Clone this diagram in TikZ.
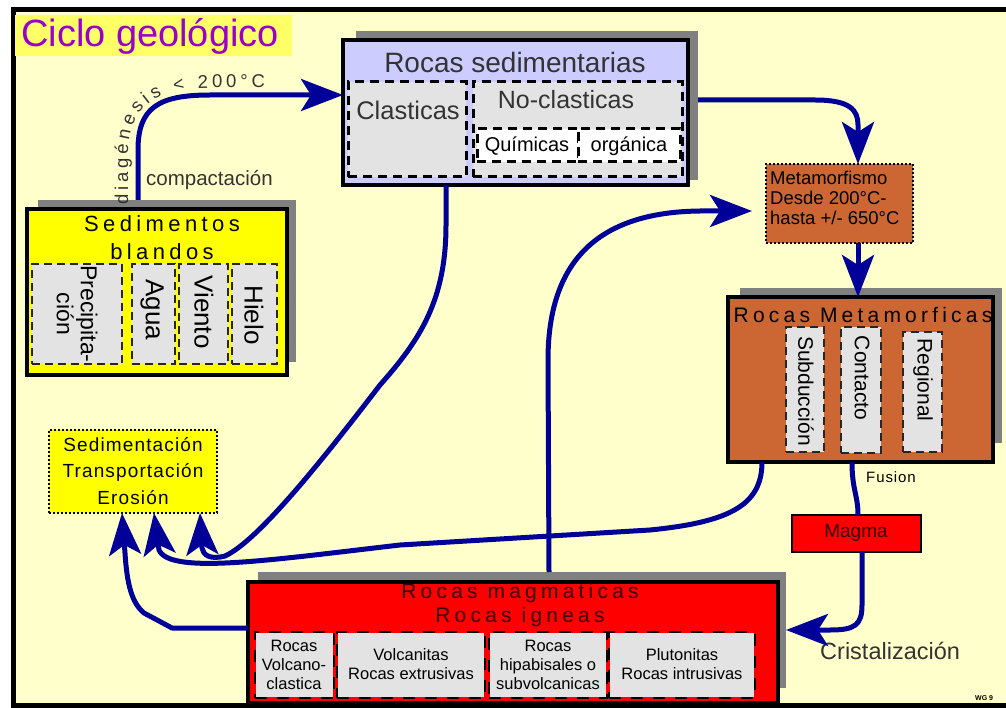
\documentclass[tikz,border=0pt]{standalone}
\usepackage{fontspec}
\setmainfont{Liberation Sans}
\newfontfamily\lsfont[LetterSpace=20]{Liberation Sans}
\newfontfamily\lsa[LetterSpace=6]{Liberation Sans}
\usetikzlibrary{arrows.meta,decorations.text,calc}
\definecolor{bgy}{HTML}{FFFFCC}
\definecolor{titley}{HTML}{FFFF66}
\definecolor{purp}{HTML}{9900CC}
\definecolor{lav}{HTML}{CCCCFF}
\definecolor{subg}{HTML}{E3E3E3}
\definecolor{orng}{HTML}{CC6633}
\definecolor{shadowg}{HTML}{808080}
\definecolor{arrb}{HTML}{000099}
\definecolor{yel}{HTML}{FFFF00}
\definecolor{dtext}{HTML}{333333}
\newcommand\fsz[2]{\fontsize{#1}{#2}\selectfont}
\newcommand\rbox[6]{\node[#6, anchor=north west, inner sep=0, outer sep=0, minimum width={#4-#2}, minimum height={#5-#3}] (#1) at (#2,#3) {};}
\tikzset{
  big/.style={draw=black, line width=3.5},
  subA/.style={draw=black, dash pattern=on 9pt off 6pt, line width=3, fill=subg},
  subB/.style={draw=black!85, dash pattern=on 8pt off 5pt, line width=1.8, fill=subg},
  subC/.style={draw=red, line width=2, fill=subg, postaction={draw=black, dash pattern=on 12pt off 10pt, line width=2.5}},
  dotbox/.style={draw=black, dash pattern=on 2pt off 2pt, line width=1.5},
  arr/.style={draw=arrb, line width=5, line join=round, -{Stealth[length=42pt, width=32pt, inset=10pt]}},
  plain/.style={draw=arrb, line width=5, line join=round},
}
\begin{document}
\begin{tikzpicture}[x=1pt,y=-1pt]
\useasboundingbox (0,0) rectangle (1006,708);
\fill[white] (0,0) rectangle (1006,708);
\fill[bgy] (13,10) rectangle (1020,705);
\draw[line width=5] (13,10) rectangle (1020,705);

% title
\rbox{titlebox}{15}{15}{292}{56}{fill=titley}
\node[text=purp, font=\fsz{38}{38}, anchor=west, inner sep=0] (title) at (21,36) {Ciclo geológico};

% Rocas sedimentarias
\rbox{sedsh}{356}{31}{698}{180}{fill=shadowg}
\rbox{sed}{343}{40}{688}{185}{big, fill=lav}
\rbox{clast}{348}{82}{466}{177}{subA}
\rbox{noclast}{473}{82}{682}{177}{subA}
\rbox{quim}{477}{129}{578}{162}{subA, fill=white}
\rbox{org}{578}{129}{680}{162}{subA, fill=white}
\node[font=\fsz{28}{28}, text=dtext] (sedt) at (515,62) {Rocas sedimentarias};
\node[font=\fsz{25.5}{25.5}, text=dtext] (clastt) at (408,110) {Clasticas};
\node[font=\fsz{25}{25}, text=dtext] (noclastt) at (566,100) {No-clasticas};
\node[font=\fsz{20}{20}] (quimt) at (527,146) {Químicas};
\node[font=\fsz{20}{20}] (orgt) at (629,146) {orgánica};

% Sedimentos blandos
\rbox{sbsh}{38}{200}{296}{362}{fill=shadowg}
\rbox{sb}{27}{209}{287}{375}{big, fill=yel}
\node[font=\lsfont\fsz{22}{28}, align=center] (sbt) at (162,238) {Sedimentos\\blandos};
\rbox{prec}{32}{264}{122}{364}{subB}
\rbox{agua}{132}{264}{175}{364}{subB}
\rbox{viento}{179}{264}{228}{364}{subB}
\rbox{hielo}{232}{264}{277}{364}{subB}
\node[rotate=-90, font=\fsz{23}{24}, align=center] (prect) at (77,314) {Precipita-\\ción};
\node[rotate=-90, font=\fsz{26}{26}] (aguat) at (152,310) {Agua};
\node[rotate=-90, font=\fsz{26}{26}] (vientot) at (204,312) {Viento};
\node[rotate=-90, font=\fsz{26}{26}] (hielot) at (254,315) {Hielo};

% Sedimentacion box
\rbox{ste}{49}{430}{217}{513}{dotbox, fill=yel}
\node[font=\lsa\fsz{19}{26.5}, align=center] (stet) at (133,471) {Sedimentación\\Transportación\\Erosión};

% Metamorfismo
\rbox{meta}{766}{164}{913}{243}{dotbox, fill=orng}
\node[font=\fsz{18.5}{20}, align=left, anchor=west, inner sep=0] (metat) at (770,198) {Metamorfismo\\Desde 200°C-\\hasta +/- 650°C};

% Rocas Metamorficas
\rbox{rmsh}{740}{288}{1002}{443}{fill=shadowg}
\rbox{rm}{728}{297}{993}{462}{big, fill=orng}
\node[font=\lsfont\fsz{21}{21}] (rmt) at (863,315) {Rocas Metamorficas};
\rbox{subd}{786}{327}{824}{452}{subB}
\rbox{cont}{841}{327}{881}{453}{subB}
\rbox{reg}{903}{332}{942}{452}{subB}
\node[rotate=-90, font=\fsz{21}{21}] (subdt) at (806,391) {Subducción};
\node[rotate=-90, font=\fsz{21}{21}] (contt) at (862,378) {Contacto};
\node[rotate=-90, font=\fsz{21}{21}] (regt) at (923,380) {Regional};

\node[font=\lsa\fsz{15}{15}, anchor=west, inner sep=0] (fus) at (866,477) {Fusion};

% Magma
\rbox{magma}{792}{515}{921}{552}{draw=black, line width=1.5, fill=red}
\node[font=\fsz{19}{19}, text=black!80!red] (magt) at (856,533) {Magma};

% Rocas magmaticas
\rbox{rmagsh}{258}{572}{786}{688}{fill=shadowg}
\rbox{rmag}{248}{582}{778}{703}{big, fill=red}
\node[font=\lsfont\fsz{21}{24}, align=center, text=black!80!red] (rmagt) at (520,605) {Rocas magmaticas\\Rocas igneas};
\rbox{vc}{255}{632}{334}{698}{subC}
\rbox{volc}{337}{632}{485}{698}{subC}
\rbox{hip}{489}{632}{607}{698}{subC}
\rbox{plut}{609}{632}{755}{698}{subC}
\node[font=\fsz{16.5}{19}, align=center] (vct) at (294,665) {Rocas\\Volcano-\\clastica};
\node[font=\fsz{16.5}{19}, align=center] (volct) at (411,664) {Volcanitas\\Rocas extrusivas};
\node[font=\fsz{16.5}{19}, align=center] (hipt) at (548,665) {Rocas\\hipabisales o\\subvolcanicas};
\node[font=\fsz{16.5}{19}, align=center] (plutt) at (682,664) {Plutonitas\\Rocas intrusivas};

\node[font=\fsz{23.5}{23.5}, text=dtext, anchor=west, inner sep=0] (crist) at (820,651) {Cristalización};
\node[font=\fsz{20.5}{20.5}, text=dtext, anchor=west, inner sep=0] (comp) at (146,180) {compactación};
\node[font=\bfseries\fsz{7}{7}, anchor=west, inner sep=0] (wg) at (975,698) {WG 9};

% connectors
\draw[arr] (sbsh.north -| 138,0) -- (138,150) .. controls (138,108) and (158,95) .. (210,95) -- (sed.west |- 0,95);
\path[decorate, decoration={text along path, text={|\fsz{18.5}{18.5}\color{dtext}|diagénesis < 200°C}, text align={fit to path}}] (128,205) -- (128,155) .. controls (128,105) and (158,88) .. (208,88) -- (265,88);
\draw[arr] (sedsh.east |- 0,100) -- (815,100) .. controls (850,100) and (858,110) .. (858,125) -- (meta.north -| 858,0);
\draw[arr] (meta.south -| 858,0) -- (rm.north -| 858,0);
\draw[plain] (rm.south -| 852,0) .. controls (852,490) and (858,495) .. (magma.north -| 858,0);
\draw[arr] (magma.south -| 862,0) -- (862,605) .. controls (862,625) and (855,630) .. (830,630) -- (rmagsh.east |- 0,630);
\draw[arr] (rm.south -| 762,0) .. controls (762,505) and (730,522) .. (650,530) -- (400,545) .. controls (270,560) and (170,575) .. (159,550) -- (ste.south -| 154,0);
\draw[arr] (sed.south -| 446,0) -- (446,225) .. controls (446,300) and (420,340) .. (380,385) .. controls (330,450) and (260,540) .. (225,556) .. controls (210,560) and (203,555) .. (202,548) -- (ste.south -| 200,0);
\draw[arr] (rmag.west |- 0,628) -- (172,628) -- (144,613) .. controls (132,603) and (127,585) .. (125,553) -- (ste.south -| 122,0);
\draw[arr, shorten >=14pt] (rmagsh.north -| 549,0) -- (548,360) .. controls (548,250) and (610,212) .. (700,211) -- (meta.west |- 0,211);
\end{tikzpicture}
\end{document}
